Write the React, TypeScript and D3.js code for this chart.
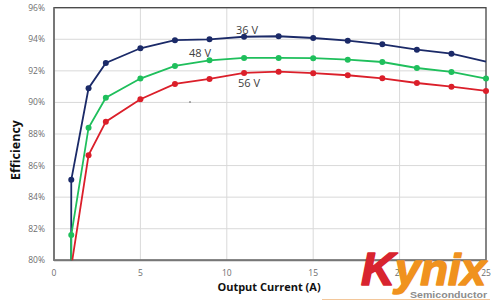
import React from "react";
import * as d3 from "d3";

const currents = [1, 2, 3, 5, 7, 9, 11, 13, 15, 17, 19, 21, 23, 25];
const eff36 = [85.1, 90.9, 92.5, 93.43, 93.94, 94.0, 94.16, 94.19, 94.08, 93.91, 93.68, 93.34, 93.09, 92.58];
const eff48 = [81.6, 88.4, 90.3, 91.51, 92.31, 92.67, 92.82, 92.82, 92.8, 92.71, 92.56, 92.18, 91.93, 91.51];
const eff56 = [79.6, 86.66, 88.78, 90.2, 91.17, 91.49, 91.87, 91.95, 91.85, 91.72, 91.53, 91.23, 91.0, 90.73];
// light-load point below the axis (same current) for 36 V and 48 V
const leadCurrent = 0.99;
const lead36 = 76;
const lead48 = 76;

const xTicks = [0, 5, 10, 15, 20, 25];
const yTicks = [80, 82, 84, 86, 88, 90, 92, 94, 96];

const seriesNames = ["36 V", "48 V", "56 V"];
const seriesColors = ["#1b2a68", "#1fbf5c", "#db1f2a"];

export default function App() {
  const W = 500, H = 303;
  const L = 54, R = 486, T = 7.7, B = 260.3;
  const x = d3.scaleLinear().domain([0, 25]).range([L, R]);
  const y = d3.scaleLinear().domain([80, 96]).range([B, T]);
  const line = d3.line<[number, number]>().x(d => x(d[0])).y(d => y(d[1]));

  const series: { pts: [number, number][]; marks: [number, number][]; color: string }[] = [
    {
      pts: [[leadCurrent, lead36], ...currents.map((c, i) => [c, eff36[i]] as [number, number])],
      marks: currents.slice(0, -1).map((c, i) => [c, eff36[i]] as [number, number]),
      color: seriesColors[0],
    },
    {
      pts: [[leadCurrent, lead48], ...currents.map((c, i) => [c, eff48[i]] as [number, number])],
      marks: currents.map((c, i) => [c, eff48[i]] as [number, number]),
      color: seriesColors[1],
    },
    {
      pts: currents.map((c, i) => [c, eff56[i]] as [number, number]),
      marks: currents.map((c, i) => [c, eff56[i]] as [number, number]),
      color: seriesColors[2],
    },
  ];

  const labelPos = [
    { x: 236, y: 34 },
    { x: 189, y: 56.7 },
    { x: 238, y: 87.3 },
  ];

  return (
    <svg width={W} height={H} style={{ position: "absolute", left: 0, top: 0 }}>
      <defs>
        <clipPath id="plot">
          <rect x={L} y={T - 4} width={R - L + 4} height={B - T + 4} />
        </clipPath>
      </defs>
      <rect width={W} height={H} fill="#fff" />
      {yTicks.map(t => (
        <line key={"gy" + t} x1={L} x2={R} y1={y(t)} y2={y(t)} stroke="#d9d9d9" strokeWidth={1} />
      ))}
      {xTicks.slice(1, -1).map(t => (
        <line key={"gx" + t} x1={x(t)} x2={x(t)} y1={T} y2={B} stroke="#d9d9d9" strokeWidth={1} />
      ))}
      <rect x={L} y={T} width={R - L} height={B - T} fill="none" stroke="#444" strokeWidth={1.3} />
      <line x1={L} x2={R} y1={B} y2={B} stroke="#777" strokeWidth={2} />
      <line x1={L} x2={L} y1={T} y2={B} stroke="#777" strokeWidth={2} />
      {yTicks.map(t => (
        <text key={"ty" + t} x={45} y={y(t) + 3} fontSize={8.5} fill="#6e6e6e" textAnchor="end" fontFamily="Open Sans, sans-serif">
          {t}%
        </text>
      ))}
      {xTicks.map(t => (
        <text key={"tx" + t} x={x(t)} y={276} fontSize={8.5} fill="#6e6e6e" textAnchor="middle" fontFamily="Open Sans, sans-serif">
          {t}
        </text>
      ))}
      <text x={269} y={291} fontSize={11} fontWeight="bold" textAnchor="middle" fill="#111" fontFamily="Open Sans, sans-serif">
        Output Current (A)
      </text>
      <text transform="translate(19.5,150) rotate(-90)" fontSize={12.5} fontWeight="bold" textAnchor="middle" fill="#111" fontFamily="Open Sans, sans-serif">
        Efficiency
      </text>
      <g clipPath="url(#plot)">
        {series.map((s, i) => (
          <g key={i}>
            <path d={line(s.pts) || ""} fill="none" stroke={s.color} strokeWidth={1.8} />
            {s.marks.map((p, j) => (
              <circle key={j} cx={x(p[0])} cy={y(p[1])} r={3} fill={s.color} />
            ))}
          </g>
        ))}
      </g>
      {seriesNames.map((n, i) => (
        <text key={n} x={labelPos[i].x} y={labelPos[i].y} fontSize={11} fill="#404040" fontFamily="Open Sans, sans-serif">
          {n}
        </text>
      ))}
      <circle cx={190} cy={102} r={0.8} fill="#555" />
      {/* Logo */}
      <line x1={322} x2={490} y1={299.5} y2={299.5} stroke="#f3c79a" strokeWidth={1} />
      <text x={361} y={285} fontSize={47} fontWeight="bold" fontStyle="italic" fill="#d8242f" stroke="#d8242f" strokeWidth={1.6} strokeLinejoin="round" fontFamily="Liberation Sans, Arial, sans-serif">
        K
      </text>
      <text x={395} y={285} fontSize={44} fontWeight="bold" fontStyle="italic" fill="#f0921e" stroke="#f0921e" strokeWidth={1.6} strokeLinejoin="round" fontFamily="Liberation Sans, Arial, sans-serif" textLength={91} lengthAdjust="spacingAndGlyphs">
        ynix
      </text>
      <text x={410} y={298} fontSize={9.5} fontWeight="bold" fill="#8c8c8c" fontFamily="Liberation Sans, Arial, sans-serif" textLength={77} lengthAdjust="spacingAndGlyphs">
        Semiconductor
      </text>
    </svg>
  );
}
